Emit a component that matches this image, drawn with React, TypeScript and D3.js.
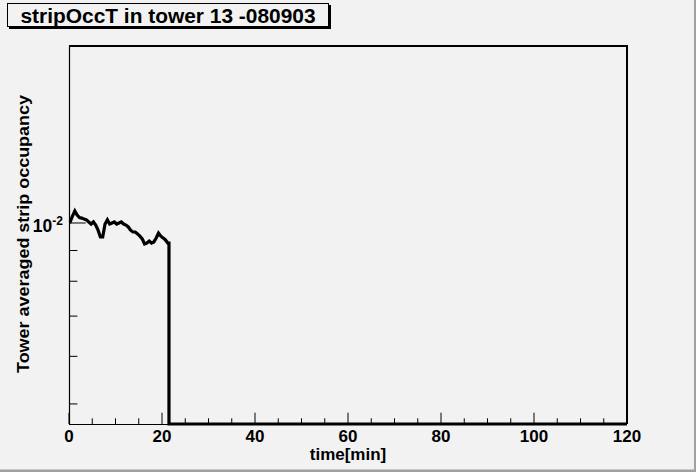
import React, { useEffect, useRef } from 'react';
import * as d3 from 'd3';

const title = 'stripOccT in tower 13 -080903';
const xTitle = 'time[min]';
const yTitle = 'Tower averaged strip occupancy';

const binWidth = 0.5; // minutes per bin
const timeRange = [0, 120];
const occupancyRange = [0.00463, 0.0197];

// averaged strip occupancy per bin, empty after ~21.5 min
const occupancy = [
  0.01004, 0.01027, 0.01047, 0.01031, 0.01021, 0.01019, 0.01015, 0.01012, 0.01004, 0.00996,
  0.01004, 0.00992, 0.00973, 0.00948, 0.00948, 0.00996, 0.01012, 0.00996, 0.01000, 0.01004,
  0.00996, 0.01000, 0.01004, 0.00996, 0.00992, 0.00985, 0.00973, 0.00966, 0.00966, 0.00959,
  0.00951, 0.00941, 0.00923, 0.00926, 0.00933, 0.00926, 0.00930, 0.00944, 0.00962, 0.00951,
  0.00944, 0.00937, 0.00926,
];

const xMajorTicks = [0, 20, 40, 60, 80, 100, 120];
const yMajorTicks = [0.01];
const yMinorTicks = [0.005, 0.006, 0.007, 0.008, 0.009];

const FONT = "'Liberation Sans', Arial, Helvetica, sans-serif";
const BG = '#f2f2f2';

const App = () => {
  const svgRef = useRef(null);

  useEffect(() => {
    const svg = d3.select(svgRef.current);
    svg.selectAll('*').remove();

    const W = 696, H = 472;
    const frame = { left: 69, right: 627, top: 46, bottom: 424 };

    const x = d3.scaleLinear().domain(timeRange).range([frame.left, frame.right]);
    const y = d3.scaleLog().domain(occupancyRange).range([frame.bottom, frame.top]);

    // canvas
    svg.append('rect').attr('width', W).attr('height', H).attr('fill', BG);
    svg.append('rect').attr('x', W - 2).attr('y', 0).attr('width', 2).attr('height', H).attr('fill', '#a0a0a0');
    svg.append('rect').attr('x', 0).attr('y', H - 2.5).attr('width', W).attr('height', 2.5).attr('fill', '#a0a0a0');

    // histogram: line through bin centres, then down to the frame bottom where bins are empty
    const bins = occupancy.map((v, i) => ({ t: timeRange[0] + (i + 0.5) * binWidth, v }));
    const last = bins[bins.length - 1];
    const edge = x(timeRange[0] + occupancy.length * binWidth);
    const pts = [[x(timeRange[0]), y(bins[0].v)]];
    bins.forEach(b => pts.push([x(b.t), y(b.v)]));
    pts.push([edge, y(last.v)]);
    pts.push([edge, frame.bottom]);
    pts.push([x(timeRange[1]), frame.bottom]);
    svg.append('path')
      .attr('d', d3.line()(pts))
      .attr('fill', 'none')
      .attr('stroke', '#000')
      .attr('stroke-width', 3.2)
      .attr('stroke-linejoin', 'miter');

    // frame
    svg.append('line').attr('x1', frame.left).attr('x2', frame.right + 1).attr('y1', frame.top).attr('y2', frame.top)
      .attr('stroke', '#000').attr('stroke-width', 2);
    svg.append('line').attr('x1', frame.right).attr('x2', frame.right).attr('y1', frame.top).attr('y2', frame.bottom)
      .attr('stroke', '#000').attr('stroke-width', 2);
    svg.append('line').attr('x1', frame.left).attr('x2', frame.right).attr('y1', frame.bottom + 0.5).attr('y2', frame.bottom + 0.5)
      .attr('stroke', '#000').attr('stroke-width', 1.2);
    svg.append('line').attr('x1', frame.left + 0.5).attr('x2', frame.left + 0.5).attr('y1', frame.top).attr('y2', frame.bottom)
      .attr('stroke', '#000').attr('stroke-width', 1.2);

    // x ticks
    const xMinor = x.ticks(24).filter(t => !xMajorTicks.includes(t));
    svg.append('g').selectAll('line.maj').data(xMajorTicks).enter().append('line')
      .attr('x1', d => x(d)).attr('x2', d => x(d))
      .attr('y1', frame.bottom).attr('y2', frame.bottom - 11.3)
      .attr('stroke', '#000').attr('stroke-width', 1);
    svg.append('g').selectAll('line.min').data(xMinor).enter().append('line')
      .attr('x1', d => x(d)).attr('x2', d => x(d))
      .attr('y1', frame.bottom).attr('y2', frame.bottom - 5.7)
      .attr('stroke', '#000').attr('stroke-width', 1);
    svg.append('g').selectAll('text').data(xMajorTicks).enter().append('text')
      .attr('x', d => x(d)).attr('y', 442)
      .attr('text-anchor', 'middle')
      .attr('font-family', FONT).attr('font-weight', 'bold').attr('font-size', 17)
      .text(d => d);

    // y ticks
    svg.append('g').selectAll('line.maj').data(yMajorTicks).enter().append('line')
      .attr('x1', frame.left).attr('x2', frame.left + 16.7)
      .attr('y1', d => y(d)).attr('y2', d => y(d))
      .attr('stroke', '#000').attr('stroke-width', 1);
    svg.append('g').selectAll('line.min').data(yMinorTicks).enter().append('line')
      .attr('x1', frame.left).attr('x2', frame.left + 8.4)
      .attr('y1', d => y(d)).attr('y2', d => y(d))
      .attr('stroke', '#000').attr('stroke-width', 1);
    yMajorTicks.forEach(d => {
      const exp = Math.round(Math.log10(d));
      const t = svg.append('text')
        .attr('x', 63).attr('y', y(d) + 9.5)
        .attr('text-anchor', 'end')
        .attr('font-family', FONT).attr('font-weight', 'bold').attr('font-size', 17.5);
      t.append('tspan').text('10');
      t.append('tspan').attr('dy', -7.5).attr('font-size', 12).text(String(exp));
    });

    // axis titles
    svg.append('text')
      .attr('x', (frame.left + frame.right) / 2).attr('y', 460)
      .attr('text-anchor', 'middle')
      .attr('font-family', FONT).attr('font-weight', 'bold').attr('font-size', 17)
      .text(xTitle);
    svg.append('text')
      .attr('transform', 'translate(29,234) rotate(-90)')
      .attr('text-anchor', 'middle')
      .attr('font-family', FONT).attr('font-weight', 'bold').attr('font-size', 17)
      .attr('textLength', 278).attr('lengthAdjust', 'spacingAndGlyphs')
      .text(yTitle);

    // title box with shadow
    svg.append('rect').attr('x', 9).attr('y', 5).attr('width', 322).attr('height', 24).attr('fill', '#000');
    svg.append('rect').attr('x', 7.5).attr('y', 3.5).attr('width', 321).attr('height', 23)
      .attr('fill', BG).attr('stroke', '#000').attr('stroke-width', 1);
    svg.append('text')
      .attr('x', 168).attr('y', 22.5)
      .attr('text-anchor', 'middle')
      .attr('font-family', FONT).attr('font-weight', 'bold').attr('font-size', 20)
      .attr('textLength', 295).attr('lengthAdjust', 'spacingAndGlyphs')
      .text(title);
  }, []);

  return <svg ref={svgRef} width={696} height={472} style={{ position: 'absolute', left: 0, top: 0 }} />;
};

export default App;
